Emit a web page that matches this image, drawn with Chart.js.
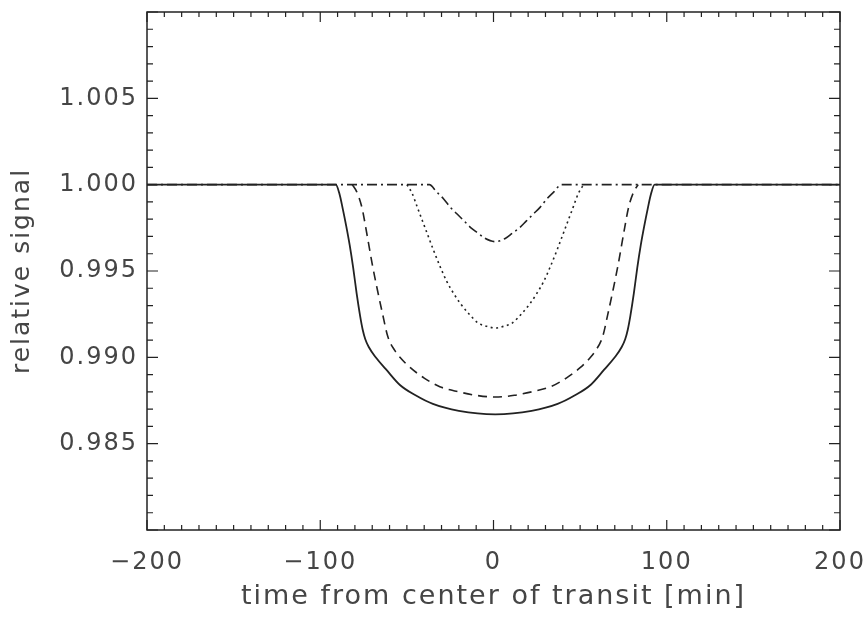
<!DOCTYPE html>
<html>
<head>
<meta charset="utf-8">
<script src="https://cdn.jsdelivr.net/npm/chart.js"></script>
<style>
  html, body { margin: 0; padding: 0; background: #fff; }
  #wrap { width: 864px; height: 619px; }
</style>
</head>
<body>
<div id="wrap"><canvas id="transitChart" width="864" height="619"></canvas></div>
<script>
// Light curves of a transit: time from mid-transit [min] vs relative signal
const solidTime = [-200, -91, -89, -87, -85, -83, -81, -79, -77, -75.5, -74, -72, -68, -62, -54, -45, -35, -20, 1,
                   22, 37, 47, 56, 64, 70, 74, 76, 77.5, 79, 81, 83, 85, 87, 89, 91, 93, 200];
const solidFlux = [1.0, 1.0, 0.9995, 0.9986, 0.9976, 0.9965, 0.9952, 0.9937, 0.9924, 0.9916, 0.99105, 0.9906, 0.9900, 0.9893, 0.9884, 0.9878, 0.9873, 0.9869, 0.9867,
                   0.9869, 0.9873, 0.9878, 0.9884, 0.9893, 0.9900, 0.9906, 0.99105, 0.9916, 0.9924, 0.9937, 0.9952, 0.9965, 0.9976, 0.9986, 0.9995, 1.0, 1.0];

const dashedTime = [-81.5, -79, -76, -73, -70, -67, -64, -61, -57, -54, -48, -40, -31, -20, -10, 1,
                    12, 22, 33, 42, 50, 56, 59, 63, 66, 69, 72, 75, 78, 81, 83.5];
const dashedFlux = [1.0, 0.9996, 0.9987, 0.9971, 0.9954, 0.9939, 0.9925, 0.9912, 0.9904, 0.9900, 0.9894, 0.9888, 0.9883, 0.9880, 0.9878, 0.9877,
                    0.9878, 0.9880, 0.9883, 0.9888, 0.9894, 0.9900, 0.9904, 0.9912, 0.9925, 0.9939, 0.9954, 0.9971, 0.9987, 0.9996, 1.0];

const dottedTime = [-50, -47, -44, -41, -38, -35, -31, -27, -23, -19, -14, -9, -4, 1,
                    6, 11, 16, 21, 25, 29, 33, 37, 40, 43, 46, 49, 52];
const dottedFlux = [1.0, 0.9995, 0.9987, 0.9979, 0.9971, 0.9963, 0.9953, 0.9944, 0.9937, 0.9931, 0.9925, 0.9920, 0.9918, 0.9917,
                    0.9918, 0.9920, 0.9925, 0.9931, 0.9937, 0.9944, 0.9953, 0.9963, 0.9971, 0.9979, 0.9987, 0.9995, 1.0];

const dashDotTime = [-200, -37, -33, -29, -25, -21, -17, -13, -9, -5, 1,
                     7, 11, 15, 19, 23, 27, 31, 35, 39, 200];
const dashDotFlux = [1.0, 1.0, 0.9996, 0.9992, 0.9987, 0.9983, 0.9979, 0.9975, 0.9972, 0.9969, 0.9967,
                     0.9969, 0.9972, 0.9975, 0.9979, 0.9983, 0.9987, 0.9992, 0.9996, 1.0, 1.0];

// Axis ticks
const xTickValues = [-200, -100, 0, 100, 200];
const yTickValues = [0.985, 0.990, 0.995, 1.000, 1.005];

const INK = '#222';
const TEXT = '#454545';
const FONT = 'DejaVu Sans';

function toPoints(xs, ys) {
    return xs.map((x, i) => ({ x: x, y: ys[i] }));
}

function curve(xs, ys, dash, width) {
    return {
        data: toPoints(xs, ys),
        borderColor: INK,
        borderWidth: width,
        borderDash: dash,
        pointRadius: 0,
        fill: false,
        cubicInterpolationMode: 'monotone'
    };
}

// Box around the plot with inward ticks on all four sides
const frameTicks = {
    id: 'frameTicks',
    beforeDraw(chart) {
        chart.ctx.letterSpacing = '2px';
    },
    afterDatasetsDraw(chart) {
        const { ctx, chartArea: { left, right, top, bottom }, scales: { x, y } } = chart;
        ctx.save();
        ctx.strokeStyle = INK;
        ctx.lineWidth = 1.5;
        ctx.strokeRect(left, top, right - left, bottom - top);

        ctx.beginPath();
        for (let v = -200; v <= 200; v += 10) {
            const px = x.getPixelForValue(v);
            const len = (v % 100 === 0) ? 10 : 5;
            ctx.moveTo(px, bottom); ctx.lineTo(px, bottom - len);
            ctx.moveTo(px, top); ctx.lineTo(px, top + len);
        }
        for (let i = 0; i <= 30; i++) {
            const v = 0.980 + i * 0.001;
            const py = y.getPixelForValue(v);
            const len = (i % 5 === 0) ? 11 : 6;
            ctx.moveTo(left, py); ctx.lineTo(left + len, py);
            ctx.moveTo(right, py); ctx.lineTo(right - len, py);
        }
        ctx.lineWidth = 1.2;
        ctx.stroke();
        ctx.restore();
    }
};

const ctx = document.getElementById('transitChart').getContext('2d');
new Chart(ctx, {
    type: 'line',
    data: {
        datasets: [
            curve(solidTime, solidFlux, [], 1.8),
            curve(dashedTime, dashedFlux, [9, 6], 1.6),
            curve(dottedTime, dottedFlux, [2, 3.5], 1.6),
            curve(dashDotTime, dashDotFlux, [10, 4, 2, 4], 1.6)
        ]
    },
    options: {
        responsive: false,
        animation: false,
        devicePixelRatio: 1,
        layout: { padding: { left: 0, right: 24, top: 12, bottom: 0 } },
        plugins: {
            legend: { display: false },
            tooltip: { enabled: false }
        },
        scales: {
            x: {
                type: 'linear',
                min: -200,
                max: 200,
                afterBuildTicks: scale => { scale.ticks = xTickValues.map(v => ({ value: v })); },
                afterFit: scale => { scale.height = 89; scale.paddingLeft = 0; scale.paddingRight = 0; },
                grid: { display: false, drawTicks: false },
                border: { display: false },
                ticks: {
                    color: TEXT,
                    padding: 18,
                    maxRotation: 0,
                    autoSkip: false,
                    font: { family: FONT, size: 24 },
                    callback: v => (v < 0 ? '\u2212' + Math.abs(v) : String(v))
                },
                title: {
                    display: true,
                    text: 'time from center of transit [min]',
                    color: TEXT,
                    font: { family: FONT, size: 27 },
                    padding: { top: 0, bottom: 6 }
                }
            },
            y: {
                min: 0.980,
                max: 1.010,
                afterBuildTicks: scale => { scale.ticks = yTickValues.map(v => ({ value: v })); },
                afterFit: scale => { scale.width = 147; scale.paddingTop = 0; scale.paddingBottom = 0; },
                grid: { display: false, drawTicks: false },
                border: { display: false },
                ticks: {
                    color: TEXT,
                    padding: 9,
                    autoSkip: false,
                    font: { family: FONT, size: 24 },
                    callback: v => v.toFixed(3)
                },
                title: {
                    display: true,
                    text: 'relative signal',
                    color: TEXT,
                    font: { family: FONT, size: 25 },
                    padding: { top: 7, bottom: 0 }
                }
            }
        }
    },
    plugins: [frameTicks]
});
</script>
</body>
</html>
